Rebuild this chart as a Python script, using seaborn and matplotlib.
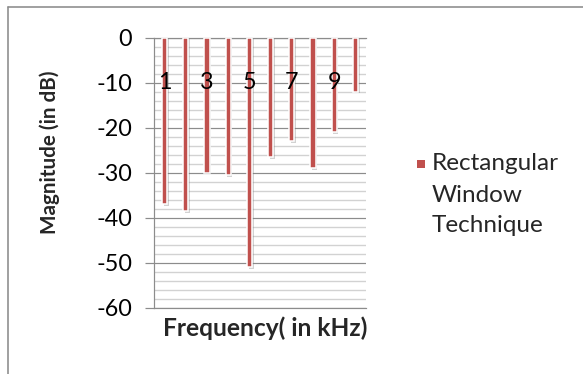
import matplotlib
matplotlib.use("Agg")
import matplotlib.pyplot as plt
import matplotlib.patheffects as pe
from matplotlib.lines import Line2D
from matplotlib.patches import Rectangle
from matplotlib.legend_handler import HandlerPatch
from matplotlib.ticker import MultipleLocator
import seaborn as sns

# Category axis (kHz) and magnitude per category (dB)
frequency_khz = ["1", "2", "3", "4", "5", "6", "7", "8", "9", "10"]
magnitude_db = [-37, -38.5, -30, -30.5, -51, -26.5, -23, -29, -21, -12]
category_tick_labels = ["1", "", "3", "", "5", "", "7", "", "9", ""]
magnitude_ticks = [0, -10, -20, -30, -40, -50, -60]
series_label = "Rectangular\nWindow\nTechnique"
x_title = "Frequency( in kHz)"
y_title = "Magnitude (in dB)"

W, H, DPI = 583, 374, 100
BAR_RED = "#C0504D"
AXIS_GREY = "#8C8C8C"
MINOR_GREY = "#D2D2D2"

sns.set_theme(style="white")
plt.rcParams["font.family"] = ["Lato", "DejaVu Sans"]

fig = plt.figure(figsize=(W / DPI, H / DPI), dpi=DPI, facecolor="white")
renderer = fig.canvas.get_renderer()


def fx(px):
    return px / W


def fy(py):
    return 1 - py / H


def pt(px):
    return px * 72 / DPI


def size_for_width(text, target_px, weight="normal"):
    probe = fig.text(0, 0, text, fontsize=20, fontweight=weight)
    width = probe.get_window_extent(renderer).width
    probe.remove()
    return 20 * target_px / width


def baseline_pitch(fs, ls):
    one = fig.text(0, 0, "Rg", fontsize=fs)
    three = fig.text(0, 0, "Rg\nRg\nRg", fontsize=fs, linespacing=ls)
    h1 = one.get_window_extent(renderer).height
    h3 = three.get_window_extent(renderer).height
    one.remove()
    three.remove()
    return (h3 - h1) / 2


# plot area in pixels
left, right, top, bottom = 154, 366, 37.5, 307.7
ax = fig.add_axes([fx(left), fy(bottom), fx(right) - fx(left), fy(top) - fy(bottom)])

sns.barplot(x=frequency_khz, y=magnitude_db, color=BAR_RED, saturation=1,
            width=0.236, edgecolor="white", linewidth=1.1, zorder=3, ax=ax)
shadow = [pe.SimplePatchShadow(offset=(1.2, -1.2), shadow_rgbFace="0.5", alpha=0.35),
          pe.Normal()]
for bar in ax.patches:
    bar.set_path_effects(shadow)

ax.set_xlim(-0.5, len(frequency_khz) - 0.5)
ax.set_ylim(min(magnitude_ticks), max(magnitude_ticks))
ax.set_xlabel("")
ax.set_ylabel("")

tick_size = 16.8
ax.set_yticks(magnitude_ticks, labels=[str(v) for v in magnitude_ticks])
ax.yaxis.set_minor_locator(MultipleLocator(2))
ax.set_axisbelow(True)
ax.grid(which="major", axis="y", color=AXIS_GREY, lw=pt(1.2))
ax.grid(which="minor", axis="y", color=MINOR_GREY, lw=pt(1.4))
ax.grid(which="both", axis="x", visible=False)
ax.tick_params(axis="y", which="major", left=True, length=pt(9), width=pt(1.2),
               color=AXIS_GREY, pad=pt(13), labelsize=tick_size, labelcolor="black")
ax.tick_params(axis="y", which="minor", left=False, length=0)

# category labels sit inside the plot, over the bars, below the zero line
ax.set_xticks(range(len(frequency_khz)), labels=category_tick_labels)
ax.xaxis.tick_top()
ax.tick_params(axis="x", length=0, pad=-pt(55.5), labelsize=tick_size, labelcolor="black")
ax.xaxis.set_zorder(4)

for side in ("left", "top", "bottom"):
    ax.spines[side].set_visible(True)
    ax.spines[side].set_color(AXIS_GREY)
    ax.spines[side].set_linewidth(pt(1.2))
ax.spines["right"].set_visible(False)

# axis titles
fig.text(fx(265), fy(336), x_title, ha="center", va="baseline",
         fontsize=size_for_width(x_title, 204, "bold"), fontweight="bold")
fig.text(fx(50), fy(152.5), y_title, rotation=90, ha="center", va="center",
         fontsize=size_for_width(y_title, 163, "bold"), fontweight="bold")

# legend: square marker beside the first line of a three-line label
leg_size = size_for_width("Technique", 112)
p1 = baseline_pitch(leg_size, 1.0)
p2 = baseline_pitch(leg_size, 2.0)
leg_ls = 1.0 + (31 - p1) / (p2 - p1)
pitch_pt = pt(31)
square_px = 8


def legend_square(legend, orig_handle, xdescent, ydescent, width, height, fontsize):
    side = pt(square_px)
    cy = -ydescent + height / 2 + pitch_pt
    return Rectangle((-xdescent + width - side, cy - side / 2), side, side)


handle = Rectangle((0, 0), 1, 1, facecolor=BAR_RED, edgecolor="none")
leg = fig.legend([handle], [series_label],
                 handler_map={Rectangle: HandlerPatch(patch_func=legend_square)},
                 loc="center left", bbox_to_anchor=(fx(417), fy(195)),
                 frameon=False, fontsize=leg_size, borderpad=0, borderaxespad=0,
                 handlelength=pt(square_px) / leg_size,
                 handletextpad=pt(7) / leg_size)
leg.get_texts()[0].set_linespacing(leg_ls)

# chart frame (only top and left edges fall inside the image)
fig.add_artist(Line2D([fx(8), fx(583)], [fy(7), fy(7)], color=AXIS_GREY,
                      lw=pt(1.6), transform=fig.transFigure))
fig.add_artist(Line2D([fx(8), fx(8)], [fy(7), fy(374)], color=AXIS_GREY,
                      lw=pt(1.6), transform=fig.transFigure))

fig.savefig("out.png", dpi=DPI)
